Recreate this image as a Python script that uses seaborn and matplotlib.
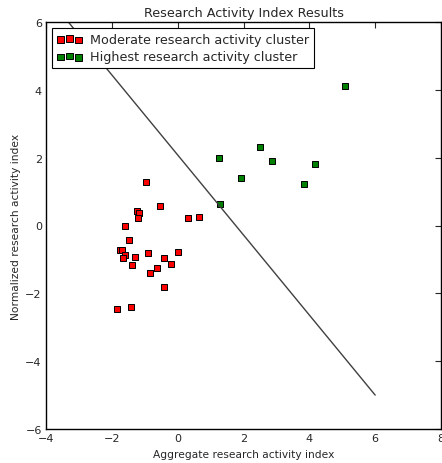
import matplotlib
matplotlib.use("Agg")

import matplotlib.pyplot as plt
import pandas as pd
import seaborn as sns

# ── Data ──────────────────────────────────────────────────────────────────────
moderate_x = [-0.97, -0.55, -1.25, -1.16, -1.22, 0.30, 0.66, -1.59, -1.48, -1.74,
              -1.68, -1.59, -1.67, -1.30, -0.90, 0.01, -0.42, -0.20, -0.63, -1.38,
              -0.84, -0.42, -1.84, -1.41]
moderate_y = [1.29, 0.58, 0.42, 0.37, 0.22, 0.23, 0.26, -0.02, -0.43, -0.73,
              -0.72, -0.88, -0.95, -0.92, -0.81, -0.77, -0.95, -1.13, -1.26, -1.17,
              -1.40, -1.81, -2.45, -2.41]

highest_x = [5.08, 2.49, 1.26, 2.87, 4.16, 1.91, 3.85, 1.30]
highest_y = [4.10, 2.31, 2.00, 1.90, 1.80, 1.41, 1.22, 0.64]

boundary_x = [-4.0, 6.0]
boundary_y = [6.8, -5.0]

labels = ["Moderate research activity cluster", "Highest research activity cluster"]

# ── Style ─────────────────────────────────────────────────────────────────────
sns.set_style("white")
plt.rcParams.update({
    "font.family": ["DejaVu Sans"],
    "xtick.direction": "in",
    "ytick.direction": "in",
    "xtick.top": True,
    "ytick.right": True,
    "xtick.major.size": 4,
    "ytick.major.size": 4,
    "axes.edgecolor": "black",
    "axes.linewidth": 1.0,
})

fig = plt.figure(figsize=(4.42, 4.64), dpi=100)
ax = fig.add_axes([46 / 442, 1 - 430 / 464, 395 / 442, 407 / 464])

df_mod = pd.DataFrame({"x": moderate_x, "y": moderate_y})
df_high = pd.DataFrame({"x": highest_x, "y": highest_y})

sns.lineplot(x=boundary_x, y=boundary_y, color="0.25", lw=1.0, ax=ax)
sns.scatterplot(data=df_mod, x="x", y="y", marker="s", color="red",
                edgecolor="black", linewidth=0.7, s=22, ax=ax, legend=False)
h_mod = ax.collections[-1]
sns.scatterplot(data=df_high, x="x", y="y", marker="s", color="green",
                edgecolor="black", linewidth=0.7, s=22, ax=ax, legend=False)
h_high = ax.collections[-1]

ax.set_xlim(-4, 8)
ax.set_ylim(-6, 6)
ax.set_xticks(range(-4, 9, 2))
ax.set_yticks(range(-6, 7, 2))
ax.tick_params(labelsize=8, pad=3)
ax.set_xlabel("Aggregate research activity index", fontsize=7.7, labelpad=4)
ax.set_ylabel("Normalized research activity index", fontsize=7.7, labelpad=3)
ax.set_title("Research Activity Index Results", fontsize=9.2, pad=4)

leg = ax.legend(handles=[h_mod, h_high], labels=labels, loc="upper left",
                scatterpoints=3, fontsize=9.2, fancybox=False, framealpha=1,
                edgecolor="black", borderaxespad=0.5, handletextpad=0.6,
                labelspacing=0.35, borderpad=0.35)
leg.get_frame().set_linewidth(0.8)

fig.savefig("out.png", dpi=100)
